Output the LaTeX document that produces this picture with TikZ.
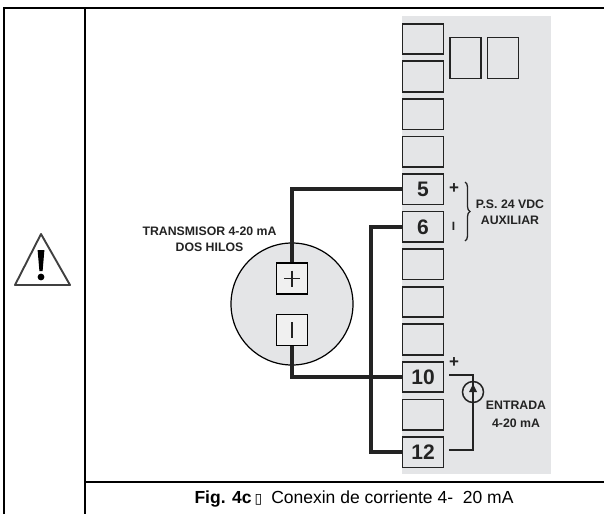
\documentclass[tikz,border=0pt]{standalone}
\usepackage{fontspec}
\setmainfont{Liberation Sans}
\newfontfamily\symfont{DejaVu Sans}
\usetikzlibrary{positioning,decorations.pathreplacing,arrows.meta}
\definecolor{panelgray}{RGB}{228,229,231}
\definecolor{inkgray}{RGB}{35,35,35}
\begin{document}
\begin{tikzpicture}[x=1pt,y=-1pt,
   terminal/.style={draw=inkgray,line width=1.7pt,fill=panelgray,minimum width=41pt,minimum height=30.5pt,inner sep=0pt,font=\fontsize{21}{21}\selectfont\bfseries,text=inkgray},
   polebox/.style={draw=black,line width=1.3pt,fill=black!6,minimum width=31pt,minimum height=31pt,inner sep=0pt},
   heavy/.style={line width=4pt,inkgray},
   thin wire/.style={line width=1.1pt,inkgray},
   rule/.style={line width=2pt,black},
   small label/.style={font=\fontsize{12.3}{12.3}\selectfont\bfseries,text=inkgray,inner sep=0pt},
   sign/.style={font=\fontsize{17}{17}\selectfont\bfseries,text=inkgray,inner sep=0pt}]
\useasboundingbox (0,0) rectangle (604,514);
% table rules
\coordinate (topleft) at (4,7.5);
\coordinate (topright) at (604,7.5);
\coordinate (botleft) at (4,514);
\coordinate (midtop) at (85,7.5);
\coordinate (midbot) at (85,514);
\coordinate (rowleft) at (85,482);
\coordinate (rowright) at (604,482);
\draw[rule] (botleft) -- (topleft) -- (topright);
\draw[rule] (midtop) -- (midbot);
\draw[rule] (rowleft) -- (rowright);
% warning sign
\draw[line width=1.9pt,black!75,line join=round] (41,234) -- (70,285) -- (15,285) -- cycle;
\fill[black] (37.6,250) -- (44.4,250) -- (42.6,271) -- (39.4,271) -- cycle;
\fill[black] (41,277) circle (3.4);
% panel
\fill[panelgray] (402,16) rectangle (551,474);
% terminal strip
\node[terminal] (t1) at (423,39) {};
\node[terminal,below=5.36pt of t1] (t2) {};
\node[terminal,below=5.36pt of t2] (t3) {};
\node[terminal,below=5.36pt of t3] (t4) {};
\node[terminal,below=5.36pt of t4] (t5) {5};
\node[terminal,below=5.36pt of t5] (t6) {6};
\node[terminal,below=5.36pt of t6] (t7) {};
\node[terminal,below=5.36pt of t7] (t8) {};
\node[terminal,below=5.36pt of t8] (t9) {};
\node[terminal,below=5.36pt of t9] (t10) {10};
\node[terminal,below=5.36pt of t10] (t11) {};
\node[terminal,below=5.36pt of t11] (t12) {12};
\node[terminal,minimum width=31pt,minimum height=41pt] (aux1) at (465.5,58) {};
\node[terminal,minimum width=31pt,minimum height=41pt] (aux2) at (503,58) {};
% transmitter
\node[circle,draw=black,line width=1.2pt,fill=panelgray,minimum size=122pt,inner sep=0pt] (transmitter) at (292,304) {};
\node[polebox] (polep) at (292,278.5) {};
\node[polebox] (polem) at (292,330) {};
\draw[line width=1.2pt,inkgray] (polep.center) ++(-8,0) -- ++(16,0);
\draw[line width=1.2pt,inkgray] (polep.center) ++(0,-8) -- ++(0,16);
\draw[line width=1.2pt,inkgray] (polem.center) ++(0,-8) -- ++(0,16);
\node[small label,align=center] (translabel) at (209.5,239) {TRANSMISOR 4-20 mA\\[3.7pt]DOS HILOS};
% heavy wiring
\coordinate (bus) at (371,300);
\draw[heavy] (polep.north) |- (t5.west);
\draw[heavy] (t6.west) -| (bus |- t12.west) -- (t12.west);
\draw[heavy] (polem.south) |- (t10.west);
% power supply
\node[sign] (plus5) at (454,188.5) {+};
\node[font=\fontsize{12}{12}\selectfont\bfseries,text=inkgray,inner sep=0pt] (minus6) at (453.5,226.5) {I};
\coordinate (bracetop) at (465,182);
\coordinate (bracebot) at (465,241);
\draw[line width=1.3pt,inkgray,decorate,decoration={brace,amplitude=5pt}] (bracetop) -- (bracebot);
\node[small label,align=center] (pslabel) at (510,212) {P.S. 24 VDC\\[3.7pt]AUXILIAR};
% input
\node[sign] (plus10) at (454,363) {+};
\coordinate (wire10) at (449,375);
\coordinate (wire12) at (449,450);
\node[circle,draw=inkgray,line width=1.5pt,minimum size=21pt,inner sep=0pt] (meter) at (473,392) {};
\draw[thin wire] (wire10) -| (473,450) -- (wire12);
\fill[inkgray] (473,384) -- (477,392) -- (469,392) -- cycle;
\node[small label,align=center] (inlabel) at (516,414) {ENTRADA\\[5.7pt]4-20 mA};
% caption
\node[inner sep=0pt,font=\fontsize{17.5}{17.5}\selectfont] (caption) at (354,499) {\textbf{Fig. 4c}\hspace{3pt}{\symfont\fontsize{14}{14}\selectfont ▯}\hspace{9pt}Conexin de corriente 4-\ \ 20 mA};
\end{tikzpicture}
\end{document}
